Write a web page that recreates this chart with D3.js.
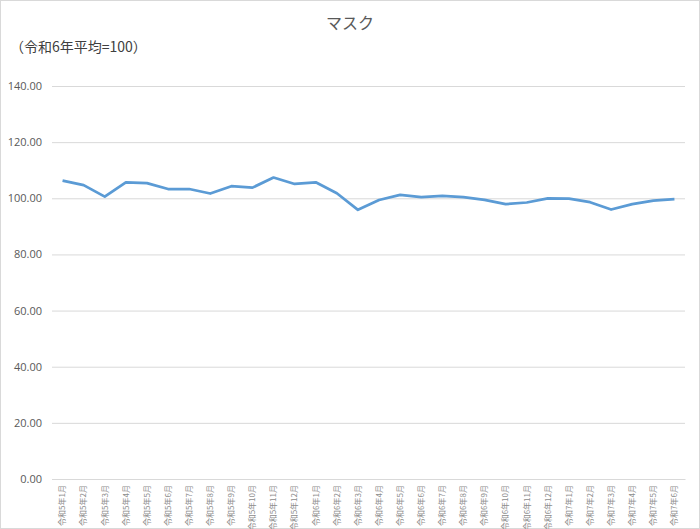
<!DOCTYPE html>
<html>
<head>
<meta charset="utf-8">
<script src="https://cdn.jsdelivr.net/npm/d3@7"></script>
<style>
  body { margin: 0; background: #fff; }
  text { font-family: "Noto Sans CJK JP", "Noto Sans", sans-serif; }
</style>
</head>
<body>
<svg id="vis"></svg>
<script>
const WIDTH = 700;
const HEIGHT = 529;

// months, 令和5年1月 .. 令和7年6月
const months = [
  "令和5年1月","令和5年2月","令和5年3月","令和5年4月","令和5年5月","令和5年6月",
  "令和5年7月","令和5年8月","令和5年9月","令和5年10月","令和5年11月","令和5年12月",
  "令和6年1月","令和6年2月","令和6年3月","令和6年4月","令和6年5月","令和6年6月",
  "令和6年7月","令和6年8月","令和6年9月","令和6年10月","令和6年11月","令和6年12月",
  "令和7年1月","令和7年2月","令和7年3月","令和7年4月","令和7年5月","令和7年6月"
];
const values = [
  106.3, 104.7, 100.6, 105.7, 105.4, 103.3,
  103.3, 101.7, 104.3, 103.8, 107.4, 105.1,
  105.7, 101.8, 95.9, 99.4, 101.2, 100.4,
  100.9, 100.4, 99.4, 97.9, 98.5, 100.0,
  99.9, 98.6, 96.0, 97.9, 99.2, 99.7
];
const yTicks = [0, 20, 40, 60, 80, 100, 120, 140];
const title = "マスク";
const subtitle = "（令和6年平均=100）";

const margin = {top: 86, right: 15, bottom: 50, left: 52};

const svg = d3.select("#vis")
  .attr("width", WIDTH)
  .attr("height", HEIGHT);

// outer frame
svg.append("rect")
  .attr("x", 0.5).attr("y", 0.5)
  .attr("width", WIDTH - 1).attr("height", HEIGHT - 1)
  .attr("fill", "#fff")
  .attr("stroke", "#d9d9d9");

const x = d3.scaleBand()
  .domain(months)
  .range([margin.left, WIDTH - margin.right]);

const y = d3.scaleLinear()
  .domain([0, 140])
  .range([HEIGHT - margin.bottom, margin.top]);

// gridlines + y labels
const yAxis = svg.append("g")
  .attr("transform", `translate(${margin.left},0)`)
  .call(d3.axisLeft(y)
    .tickValues(yTicks)
    .tickFormat(d3.format(".2f"))
    .tickSize(-(WIDTH - margin.left - margin.right))
    .tickPadding(10));
yAxis.select(".domain").remove();
yAxis.selectAll(".tick line").attr("stroke", "#d9d9d9");
yAxis.selectAll(".tick text")
  .attr("fill", "#595959")
  .style("font-size", "11px")
  .style("font-family", "'Open Sans', 'Noto Sans', sans-serif");

// x axis labels
const xAxis = svg.append("g")
  .attr("transform", `translate(0,${HEIGHT - margin.bottom})`)
  .call(d3.axisBottom(x).tickSize(0).tickPadding(0));
xAxis.select(".domain").attr("stroke", "#d9d9d9");
xAxis.selectAll(".tick text")
  .attr("fill", "#8c8c8c")
  .style("font-size", "8px")
  .attr("text-anchor", "end")
  .attr("transform", "rotate(-90)")
  .attr("x", -6)
  .attr("y", 0)
  .attr("dy", "0.35em");

// line
const line = d3.line()
  .x((d, i) => x(months[i]) + x.bandwidth() / 2)
  .y(d => y(d));

svg.append("path")
  .datum(values)
  .attr("fill", "none")
  .attr("stroke", "#5b9bd5")
  .attr("stroke-width", 2.75)
  .attr("stroke-linejoin", "round")
  .attr("d", line);

// titles
svg.append("text")
  .attr("x", WIDTH / 2)
  .attr("y", 29)
  .attr("text-anchor", "middle")
  .attr("fill", "#595959")
  .style("font-size", "16px")
  .text(title);

svg.append("text")
  .attr("x", 10)
  .attr("y", 52)
  .attr("fill", "#404040")
  .style("font-size", "14px")
  .text(subtitle);
</script>
</body>
</html>
